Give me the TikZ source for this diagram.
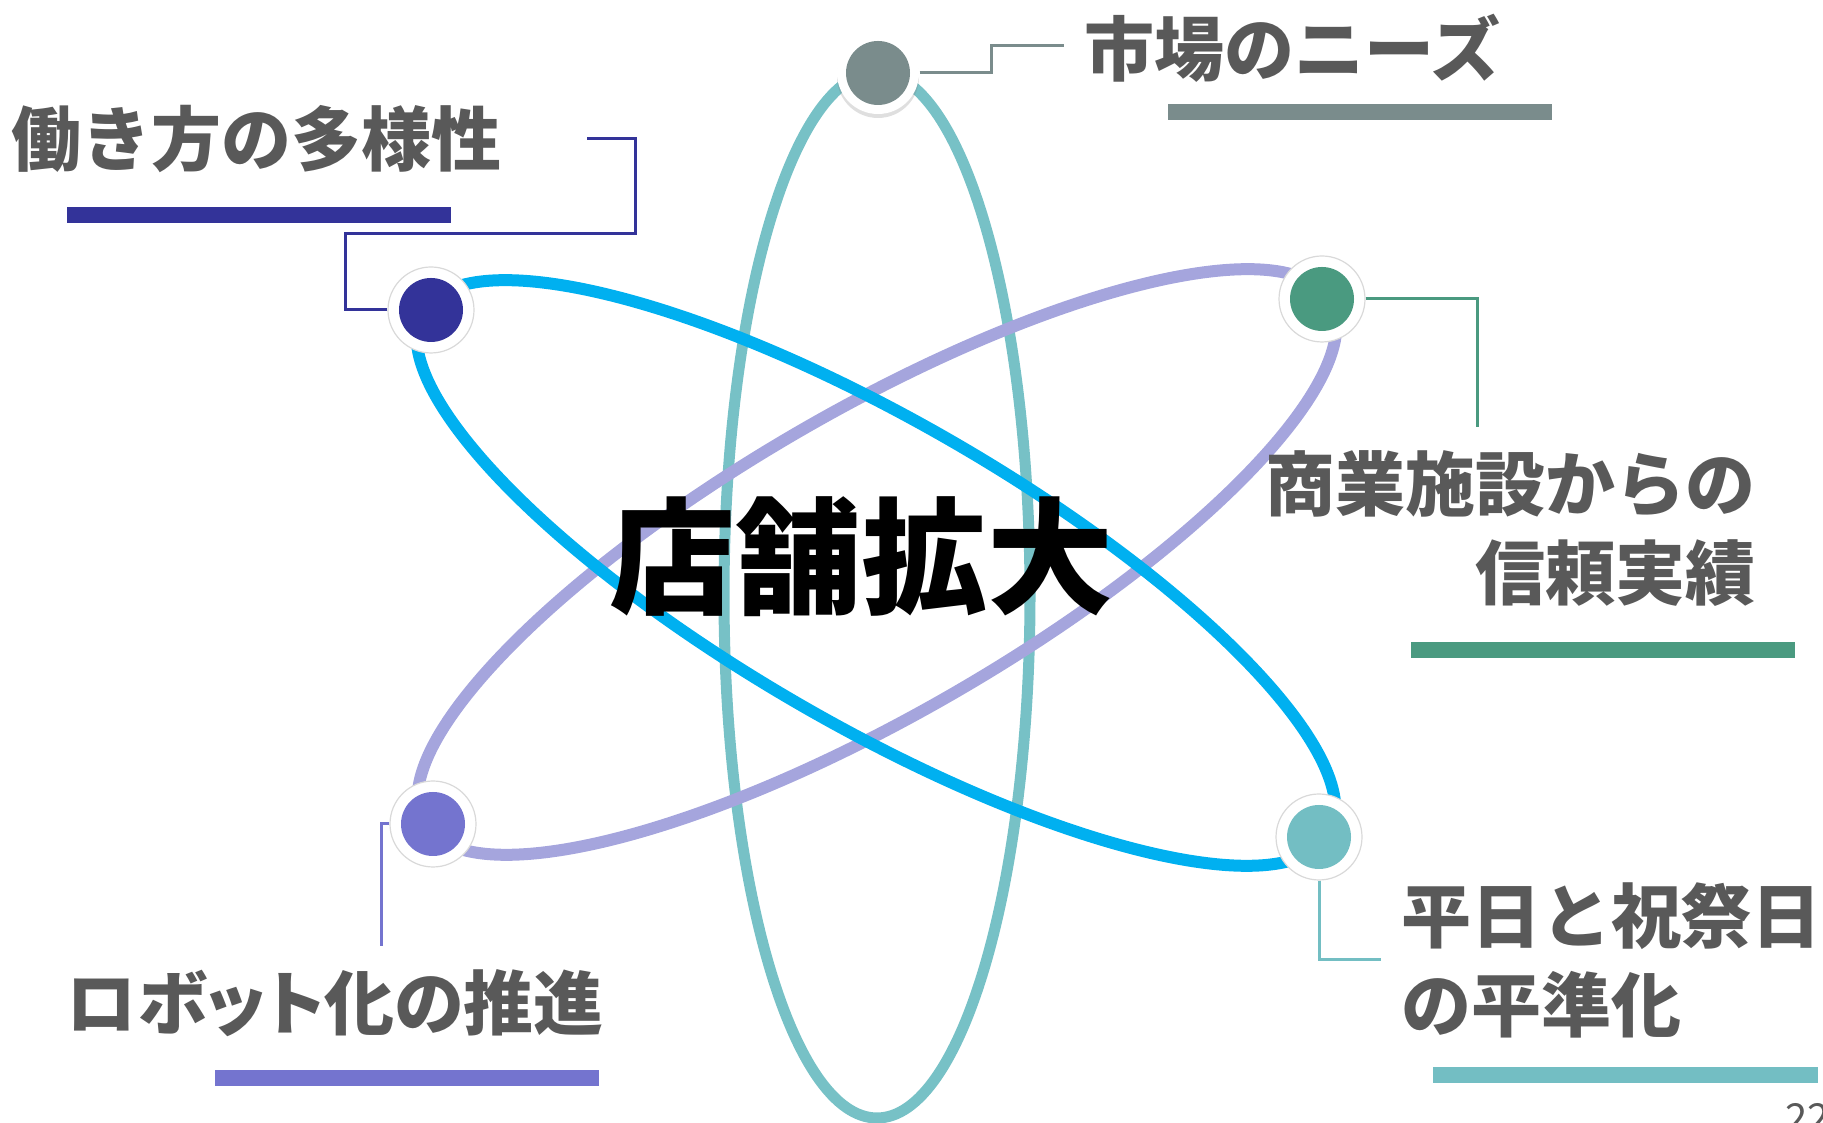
\documentclass[tikz,border=0pt]{standalone}
\usepackage{fontspec}
\newfontfamily\jpfont{Noto Sans CJK JP}
\newfontfamily\jppfont{Noto Sans CJK JP}[RawFeature=+palt]
\usetikzlibrary{positioning,shadows}
\definecolor{txtgray}{HTML}{595959}
\definecolor{marketgray}{HTML}{7A8C8C}
\definecolor{workblue}{HTML}{333399}
\definecolor{trustgreen}{HTML}{4A9A80}
\definecolor{robotviolet}{HTML}{7474CF}
\definecolor{levelteal}{HTML}{73BEC3}
\definecolor{orbitblue}{HTML}{00B0F0}
\definecolor{orbitviolet}{HTML}{A5A5DD}
\definecolor{orbitteal}{HTML}{77C1C6}
\definecolor{ringgray}{HTML}{D9D9D9}

\begin{document}
\begin{tikzpicture}
          [x=1pt, y=1pt,
           orbit/.style={draw=#1, line width=12pt},
           dot/.style={circle, fill=white, draw=ringgray, line width=1.2pt,
             minimum size=86pt, inner sep=0pt,
             path picture={\fill[#1] (path picture bounding box.center) circle (32pt);}},
           conn/.style={draw=#1, line width=3pt},
           bar/.style={draw=#1, line width=16pt},
           lbl/.style={inner sep=0pt, text=txtgray,
             font=\jpfont\bfseries\fontsize{70}{89}\selectfont}]
          \useasboundingbox (0,0) rectangle (1823,1123);

          % orbits
          \draw[orbit=orbitteal, line width=11pt] (877,528) ellipse [x radius=153, y radius=523];
          \draw[orbit=orbitviolet, rotate around={30:(877,561)}] (877,561) ellipse [x radius=523, y radius=152];
          \draw[orbit=orbitblue, rotate around={-30:(876,550)}] (876,550) ellipse [x radius=523, y radius=152];

          % dots
          \node[dot=marketgray, draw=none, minimum size=82pt,
                drop shadow={shadow xshift=0pt, shadow yshift=-4pt, opacity=0.25}] (mkt) at (878,1050) {};
          \node[dot=workblue] (wrk) at (431,813) {};
          \node[dot=trustgreen] (trs) at (1322,824) {};
          \node[dot=robotviolet] (rbt) at (433,299) {};
          \node[dot=levelteal] (lvl) at (1319,286) {};

          % connectors
          \coordinate (mktEnd) at (1064,1077);
          \coordinate (wrkEnd) at (587,984);
          \coordinate (trsEnd) at (1477,696);
          \coordinate (rbtEnd) at (381,177);
          \coordinate (lvlEnd) at (1381,163);
          \draw[conn=marketgray] (mkt.east) -| (991,1077) -- (mktEnd);
          \draw[conn=workblue] (wrk.west) -| (345,889) -| (635,984) -- (wrkEnd);
          \draw[conn=trustgreen] (trs.east) -| (trsEnd);
          \draw[conn=robotviolet] (rbt.west) -| (rbtEnd);
          \draw[conn=levelteal] (lvl.south) |- (lvlEnd);

          % bars
          \draw[bar=marketgray] (1168,1011) -- (1552,1011);
          \draw[bar=workblue] (67,908) -- (451,908);
          \draw[bar=trustgreen] (1411,473) -- (1795,473);
          \draw[bar=levelteal] (1433,48) -- (1818,48);
          \draw[bar=robotviolet] (215,45) -- (599,45);

          % labels
          \node[lbl, anchor=base west] (mktText) at (1084,1047) {市場のニーズ};
          \node[lbl, anchor=base west] (wrkText) at (11,957) {働き方の多様性};
          \node[lbl, anchor=base east, align=right] (trsText) at (1756,523) {商業施設からの\\信頼実績};
          \node[lbl, anchor=base west, align=left] (lvlText) at (1401,91) {平日と祝祭日\\の平準化};
          \node[lbl, anchor=base west, font=\jppfont\bfseries\fontsize{70}{89}\selectfont] (rbtText) at (66,93) {ロボット化の推進};
          \node[inner sep=0pt, anchor=base,
                font=\jpfont\bfseries\fontsize{126}{130}\selectfont] (core) at (861,518) {店舗拡大};
          \node[inner sep=0pt, anchor=base west, text=txtgray,
                font=\jpfont\fontsize{40}{48}\selectfont] (page) at (1785,-10) {22};

        \end{tikzpicture}
\end{document}
